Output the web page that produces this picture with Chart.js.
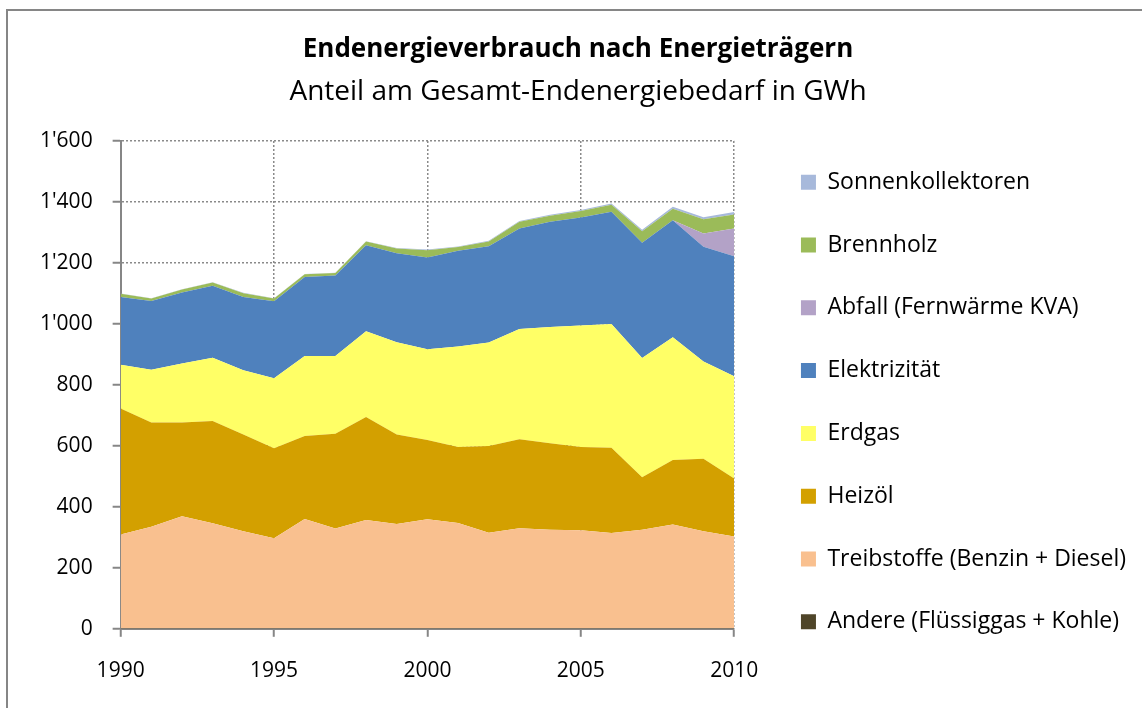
<!DOCTYPE html>
<html>
<head>
<meta charset="utf-8">
<script src="https://cdn.jsdelivr.net/npm/chart.js@4"></script>
<style>
  html, body { margin: 0; padding: 0; background: #fff; }
  #wrap { width: 1142px; height: 708px; position: relative; }
</style>
</head>
<body>
<div id="wrap"><canvas id="c"></canvas></div>
<script>
// years on the x axis
const years = [1990, 1991, 1992, 1993, 1994, 1995, 1996, 1997, 1998, 1999, 2000,
               2001, 2002, 2003, 2004, 2005, 2006, 2007, 2008, 2009, 2010];

// GWh per energy carrier (stacked bottom to top)
const andere       = [2, 2, 2, 2, 2, 2, 2, 2, 2, 2, 2, 2, 2, 2, 2, 2, 2, 2, 2, 2, 2];
const treibstoffe  = [307, 333, 367, 344, 318, 295, 358, 327, 355, 342, 357, 345, 313, 328, 323, 321, 312, 323, 340, 318, 301];
const heizoel      = [414, 342, 308, 336, 317, 295, 272, 311, 338, 293, 260, 249, 285, 292, 284, 273, 280, 172, 212, 238, 190];
const erdgas       = [143, 173, 193, 207, 211, 230, 263, 255, 281, 303, 298, 330, 339, 361, 381, 399, 406, 391, 402, 319, 335];
const elektrizitaet= [222, 225, 233, 236, 240, 252, 259, 264, 282, 292, 301, 314, 316, 330, 345, 354, 368, 378, 384, 376, 394];
const abfall       = [0, 0, 0, 0, 0, 0, 0, 0, 0, 0, 0, 0, 0, 0, 0, 0, 0, 0, 0, 44, 91];
const brennholz    = [11, 8, 10, 11, 13, 9, 9, 8, 12, 15, 24, 12, 15, 22, 20, 21, 23, 38, 38, 46, 46];
const sonnen       = [1, 1, 1, 1, 1, 1, 1, 1, 1, 2, 2, 2, 3, 3, 3, 4, 4, 5, 6, 7, 8];

const seriesNames = [
  'Andere (Flüssiggas + Kohle)',
  'Treibstoffe (Benzin + Diesel)',
  'Heizöl',
  'Erdgas',
  'Elektrizität',
  'Abfall (Fernwärme KVA)',
  'Brennholz',
  'Sonnenkollektoren'
];
const seriesValues = [andere, treibstoffe, heizoel, erdgas, elektrizitaet, abfall, brennholz, sonnen];
const seriesColors = ['#4F4529', '#F9C08F', '#D3A000', '#FFFF66', '#4F81BD', '#B3A2C7', '#9BBB59', '#A7B9DB'];

const yTicks = [0, 200, 400, 600, 800, 1000, 1200, 1400, 1600];

const FONT = "'Open Sans', sans-serif";

function swiss(v) {
  if (v < 1000) return String(v);
  const t = Math.floor(v / 1000);
  const r = String(v % 1000).padStart(3, '0');
  return t + "'" + r;
}

const datasets = seriesNames.map((name, i) => ({
  label: name,
  data: years.map((yr, j) => ({ x: yr, y: seriesValues[i][j] })),
  backgroundColor: seriesColors[i],
  borderColor: seriesColors[i],
  borderWidth: 0,
  pointRadius: 0,
  tension: 0,
  fill: i === 0 ? 'origin' : '-1'
}));

// outer frame like the spreadsheet chart border
const framePlugin = {
  id: 'frame',
  beforeDraw(chart) {
    const ctx = chart.ctx;
    ctx.save();
    ctx.fillStyle = '#fff';
    ctx.fillRect(0, 0, chart.width, chart.height);
    ctx.strokeStyle = '#868686';
    ctx.lineWidth = 2;
    ctx.strokeRect(7, 10, chart.width + 20, chart.height + 20);
    ctx.restore();
  }
};

const gridColor = '#8a8a8a';

new Chart(document.getElementById('c'), {
  type: 'line',
  data: { datasets },
  plugins: [framePlugin],
  options: {
    responsive: true,
    maintainAspectRatio: false,
    animation: false,
    layout: { padding: { left: 20, right: 6, top: 0, bottom: 2 } },
    plugins: {
      title: {
        display: true,
        text: 'Endenergieverbrauch nach Energieträgern',
        color: '#000',
        font: { family: FONT, size: 26, weight: 'bold' },
        padding: { top: 34, bottom: 0 }
      },
      subtitle: {
        display: true,
        text: 'Anteil am Gesamt-Endenergiebedarf in GWh',
        color: '#000',
        font: { family: FONT, size: 28, weight: 'normal' },
        padding: { top: 10, bottom: 32.2 }
      },
      legend: {
        position: 'right',
        reverse: true,
        align: 'start',
        maxWidth: 420,
        title: { display: true, text: '', font: { size: 10 }, padding: { top: 118.9, bottom: 0 } },
        labels: {
          color: '#000',
          font: { family: FONT, size: 23 },
          boxWidth: 15,
          boxHeight: 15,
          padding: 39.8
        }
      },
      tooltip: { enabled: false }
    },
    scales: {
      x: {
        type: 'linear',
        min: 1990,
        max: 2010,
        border: { display: true, color: '#868686', width: 2, dash: [2, 2] },
        grid: {
          color: (c) => c.tick && c.tick.value === 1990 ? 'rgba(0,0,0,0)' : gridColor,
          lineWidth: 1.5,
          tickLength: 8,
          tickColor: '#868686',
          tickWidth: 2,
          tickBorderDash: []
        },
        ticks: {
          stepSize: 5,
          color: '#000',
          font: { family: FONT, size: 21 },
          padding: 22,
          maxRotation: 0,
          callback: (v) => String(v)
        }
      },
      y: {
        stacked: true,
        min: 0,
        max: 1600,
        border: { display: true, color: '#868686', width: 2, dash: [2, 2] },
        grid: {
          color: (c) => c.tick && c.tick.value === 0 ? 'rgba(0,0,0,0)' : gridColor,
          lineWidth: 1.5,
          tickLength: 8,
          tickColor: '#868686',
          tickWidth: 2,
          tickBorderDash: []
        },
        ticks: {
          stepSize: 200,
          color: '#000',
          font: { family: FONT, size: 21 },
          padding: 20,
          callback: (v) => swiss(v)
        },
        afterBuildTicks: (scale) => { scale.ticks = yTicks.map(v => ({ value: v })); }
      },
      gap: {
        position: 'right',
        display: true,
        grid: { display: false },
        ticks: { display: false },
        border: { display: false },
        afterFit: (scale) => { scale.width = 27; }
      }
    }
  }
});
</script>
</body>
</html>
